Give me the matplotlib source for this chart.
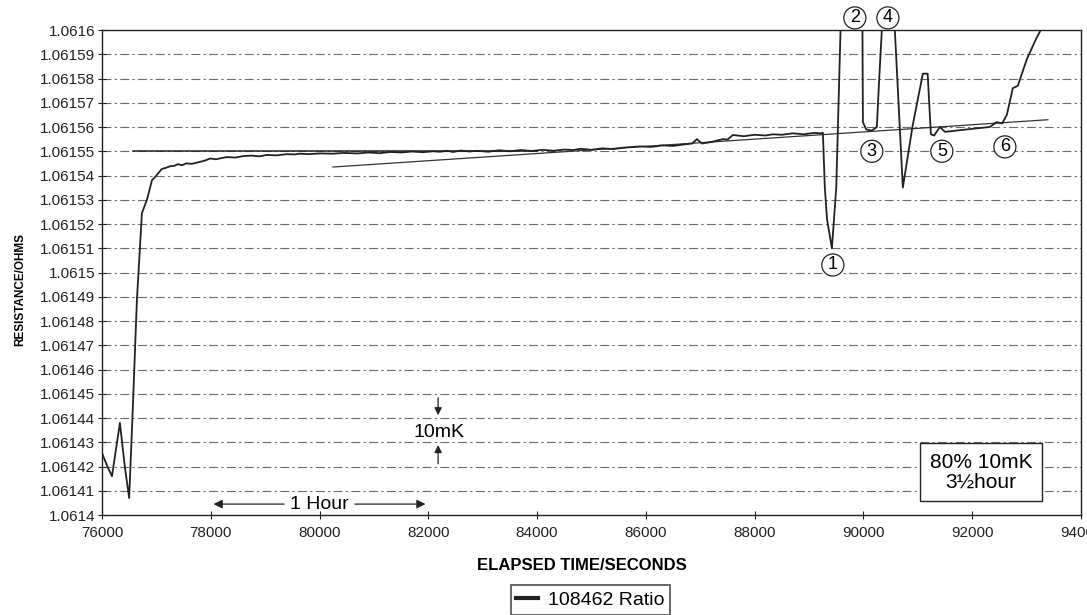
import matplotlib
matplotlib.use("Agg")
import matplotlib.pyplot as plt
from matplotlib.ticker import FuncFormatter

plt.rcParams['font.family'] = ['Liberation Sans', 'DejaVu Sans']

# ---- data ----
time_s = [76000, 76100, 76184, 76330, 76420, 76500, 76560, 76643, 76735, 76827, 76919,
          77000, 77100, 77180, 77250, 77330, 77400, 77470, 77550, 77650, 77800, 77900,
          77985, 78100, 78200, 78300, 78450, 78600, 78750, 78900, 79030, 79200, 79400,
          79550, 79640, 79800, 80000, 80246, 80450, 80700, 80900, 81100, 81300, 81500,
          81700, 81900, 82085, 82213, 82350, 82450, 82600, 82750, 82900, 83100, 83300,
          83500, 83700, 83900, 84100, 84300, 84500, 84660, 84800, 85000, 85200, 85400,
          85600, 85890, 86100, 86300, 86500, 86700, 86850, 86940, 87030, 87200, 87415,
          87500, 87600, 87800, 88000, 88200, 88335, 88500, 88700, 88900, 89100, 89200,
          89254, 89290, 89330, 89420, 89500, 89700, 89900, 89960, 89990, 90050, 90150,
          90246, 90290, 90338, 90380, 90550, 90577, 90724, 90900, 91092, 91180, 91240,
          91300, 91404, 91500, 91700, 91900, 92100, 92320, 92450, 92550, 92636, 92746,
          92838, 93004, 93188, 93260]
ratio = [1.0614256, 1.0614200, 1.0614160, 1.0614380, 1.0614200, 1.0614070, 1.0614400,
         1.0614890, 1.0615245, 1.0615300, 1.0615380,
         1.0615400, 1.0615427, 1.0615432, 1.0615438, 1.0615440, 1.0615447, 1.0615442,
         1.0615450, 1.0615448, 1.0615456, 1.0615462,
         1.0615470, 1.0615467, 1.0615472, 1.0615476, 1.0615474, 1.0615480, 1.0615482,
         1.0615479, 1.0615485, 1.0615483, 1.0615488,
         1.0615487, 1.0615490, 1.0615488, 1.0615491, 1.0615490, 1.0615493, 1.0615491,
         1.0615495, 1.0615492, 1.0615497, 1.0615495,
         1.0615499, 1.0615496, 1.0615500, 1.0615498, 1.0615502, 1.0615497, 1.0615503,
         1.0615499, 1.0615502, 1.0615498, 1.0615504,
         1.0615500, 1.0615505, 1.0615501, 1.0615506, 1.0615502, 1.0615507, 1.0615505,
         1.0615510, 1.0615506, 1.0615512, 1.0615509,
         1.0615515, 1.0615520, 1.0615518, 1.0615524, 1.0615522, 1.0615528, 1.0615532,
         1.0615550, 1.0615532, 1.0615538, 1.0615550,
         1.0615548, 1.0615567, 1.0615562, 1.0615568, 1.0615565, 1.0615570, 1.0615568,
         1.0615574, 1.0615570, 1.0615576, 1.0615574,
         1.0615576, 1.0615350, 1.0615220, 1.0615100, 1.0615350, 1.0617000, 1.0617000,
         1.0617000, 1.0615620, 1.0615590, 1.0615585,
         1.0615600, 1.0615800, 1.0616000, 1.0617000, 1.0617000, 1.0616000, 1.0615350,
         1.0615600, 1.0615820, 1.0615820, 1.0615570,
         1.0615565, 1.0615600, 1.0615580, 1.0615585, 1.0615590, 1.0615595, 1.0615600,
         1.0615620, 1.0615615, 1.0615650, 1.0615760,
         1.0615770, 1.0615880, 1.0615970, 1.0616000]

trend_t = [80246, 93390]
trend_r = [1.0615435, 1.0615630]
level_t = [76570, 84000]
level_r = [1.06155, 1.06155]

event_labels = ["1", "2", "3", "4", "5", "6"]
event_t = [89437, 89842, 90154, 90449, 91441, 92600]
event_r = [1.0615031, 1.0616050, 1.0615500, 1.0616050, 1.0615500, 1.0615518]

y_ticks = [1.0614 + i * 0.00001 for i in range(21)]
x_ticks = [76000, 78000, 80000, 82000, 84000, 86000, 88000, 90000, 92000, 94000]

# ---- figure ----
fig = plt.figure(figsize=(10.87, 6.15), dpi=100)
ax = fig.add_axes([0.0938, 0.1626, 0.9007, 0.7886])

ax.set_xlim(76000, 94000)
ax.set_ylim(1.0614, 1.0616)
ax.set_yticks(y_ticks)
ax.set_xticks(x_ticks)

def yfmt(v, pos):
    s = "%.5f" % v
    s = s.rstrip("0").rstrip(".")
    return s
ax.yaxis.set_major_formatter(FuncFormatter(yfmt))
ax.xaxis.set_major_formatter(FuncFormatter(lambda v, p: "%d" % v))

for yt in y_ticks[1:-1]:
    ax.axhline(yt, color="#6a6a6a", lw=0.8, ls=(0, (8, 3, 2, 3)), zorder=1)

ax.tick_params(axis="both", direction="inout", length=6, width=0.8,
               labelsize=11, colors="#222222")
ax.tick_params(axis="y", pad=2)
ax.tick_params(axis="x", pad=5)
for sp in ax.spines.values():
    sp.set_linewidth(1.0)
    sp.set_color("#222222")

line, = ax.plot(time_s, ratio, color="#222222", lw=1.3, zorder=3, label="108462 Ratio")
ax.plot(trend_t, trend_r, color="#333333", lw=0.9, zorder=2)
ax.plot(level_t, level_r, color="#222222", lw=1.1, zorder=2)

for lab, t, r in zip(event_labels, event_t, event_r):
    ax.text(t, r, lab, fontsize=13, ha="center", va="center", clip_on=False,
            bbox=dict(boxstyle="circle,pad=0.14", fc="white", ec="#222222", lw=0.9), zorder=5)

# 10mK annotation
ax.annotate("", xy=(82180, 1.06144), xytext=(82180, 1.0614495),
            arrowprops=dict(arrowstyle="-|>", color="#222222", lw=0.9, mutation_scale=11))
ax.annotate("", xy=(82180, 1.06143), xytext=(82180, 1.061420),
            arrowprops=dict(arrowstyle="-|>", color="#222222", lw=0.9, mutation_scale=11))
ax.text(82200, 1.061434, "10mK", fontsize=14, ha="center", va="center", zorder=5,
        bbox=dict(boxstyle="square,pad=0.02", fc="white", ec="none"))

# 1 Hour annotation
ax.annotate("", xy=(78000, 1.0614045), xytext=(79400, 1.0614045),
            arrowprops=dict(arrowstyle="-|>", color="#222222", lw=0.9, mutation_scale=13))
ax.annotate("", xy=(82000, 1.0614045), xytext=(80600, 1.0614045),
            arrowprops=dict(arrowstyle="-|>", color="#222222", lw=0.9, mutation_scale=13))
ax.text(80000, 1.0614045, "1 Hour", fontsize=14, ha="center", va="center", zorder=5)

ax.text(92158, 1.0614177, "80% 10mK\n3\u00bdhour", fontsize=15, ha="center", va="center",
        linespacing=1.05, zorder=5,
        bbox=dict(boxstyle="square,pad=0.45", fc="white", ec="#222222", lw=1.0))

ax.set_xlabel("ELAPSED TIME/SECONDS", fontsize=12, fontweight="bold",
              family=["Liberation Sans Narrow", "Liberation Sans"])
ax.xaxis.set_label_coords(0.49, -0.088)
ax.set_ylabel("RESISTANCE/OHMS", fontsize=8.5, fontweight="bold")
ax.yaxis.set_label_coords(-0.077, 0.465)

leg = fig.legend(handles=[line], loc="center", bbox_to_anchor=(0.543, 0.0245),
                 fontsize=14, frameon=True, fancybox=False, edgecolor="#222222",
                 handlelength=1.1, borderpad=0.3, handletextpad=0.5)
leg.get_frame().set_linewidth(1.2)
leg.get_lines()[0].set_linewidth(3)

fig.savefig("out.png", dpi=100)
